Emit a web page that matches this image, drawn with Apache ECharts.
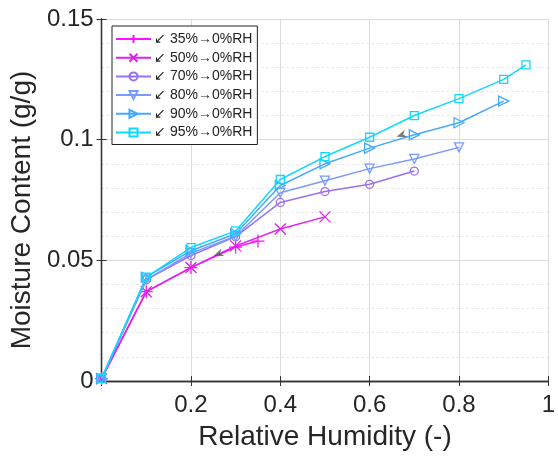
<!DOCTYPE html>
<html>
<head>
<meta charset="utf-8">
<script src="https://cdn.jsdelivr.net/npm/echarts@6/dist/echarts.min.js"></script>
<style>html,body{margin:0;padding:0;background:#fff;}#c{width:558px;height:457px;}</style>
</head>
<body>
<div id="c"></div>
<script>
const seriesNames = ['35%→0%RH', '50%→0%RH', '70%→0%RH', '80%→0%RH', '90%→0%RH', '95%→0%RH'];
const rh35 = [0, 0.1, 0.2, 0.3, 0.35];
const mc35 = [0.001, 0.037, 0.047, 0.0555, 0.058];
const rh50 = [0, 0.1, 0.2, 0.3, 0.4, 0.5];
const mc50 = [0.001, 0.037, 0.047, 0.056, 0.063, 0.068];
const rh70 = [0, 0.1, 0.2, 0.3, 0.4, 0.5, 0.6, 0.7];
const mc70 = [0.001, 0.042, 0.052, 0.0598, 0.074, 0.0785, 0.0815, 0.087];
const rh80 = [0, 0.1, 0.2, 0.3, 0.4, 0.5, 0.6, 0.7, 0.8];
const mc80 = [0.001, 0.042, 0.053, 0.060, 0.078, 0.083, 0.088, 0.092, 0.0968];
const rh90 = [0, 0.1, 0.2, 0.3, 0.4, 0.5, 0.6, 0.7, 0.8, 0.9];
const mc90 = [0.001, 0.043, 0.054, 0.061, 0.081, 0.090, 0.0965, 0.102, 0.107, 0.116];
const rh95 = [0, 0.1, 0.2, 0.3, 0.4, 0.5, 0.6, 0.7, 0.8, 0.9, 0.95];
const mc95 = [0.001, 0.043, 0.0553, 0.0622, 0.0835, 0.093, 0.101, 0.110, 0.117, 0.125, 0.131];
const arrowRH = [0.261, 0.671];
const arrowMC = [0.0526, 0.1019];
const arrowAngle = [22, 18];
const xTicks = [0.2, 0.4, 0.6, 0.8, 1];
const yTicks = [0, 0.05, 0.1, 0.15];

const colors = ['#ff10ff', '#e020ee', '#9a70f0', '#7a9aff', '#44aaff', '#10d8ff'];
const symbols = [
  'path://M5,0L5,10M0,5L10,5',
  'path://M0,0L10,10M10,0L0,10',
  'circle',
  'triangle',
  'triangle',
  'rect'
];
const symRot = [0, 0, 0, 180, -90, 0];
const symSize = [13, 11, 8, 9, 10, 8];
const xs = [rh35, rh50, rh70, rh80, rh90, rh95];
const ys = [mc35, mc50, mc70, mc80, mc90, mc95];

const zip = (a, b) => a.map((v, i) => [v, b[i]]);

const series = seriesNames.map((name, i) => ({
  name: name,
  type: 'line',
  xAxisIndex: 0, yAxisIndex: 0,
  data: zip(xs[i], ys[i]),
  symbol: symbols[i],
  symbolSize: symSize[i],
  symbolRotate: symRot[i],
  showAllSymbol: true,
  lineStyle: { color: colors[i], width: 1.5 },
  itemStyle: { color: 'rgba(255,255,255,0)', borderColor: colors[i], borderWidth: 1.3 },
  emphasis: { disabled: true },
  animation: false,
  z: 3 + i
}));

series.push({
  name: 'arrows',
  type: 'scatter',
  data: arrowRH.map((v, i) => ({ value: [v, arrowMC[i]], symbolRotate: arrowAngle[i] })),
  symbol: 'path://M0,5L10,0L7,5L10,10Z',
  symbolSize: [10, 8],
  itemStyle: { color: '#5a5a5a' },
  z: 20,
  animation: false,
  silent: true
});

const axisColor = '#333';
const font = 'Liberation Sans, Arial, sans-serif';
const chart = echarts.init(document.getElementById('c'));
chart.setOption({
  backgroundColor: '#fff',
  animation: false,
  grid: { left: 100, right: 2, top: 19, bottom: 76, containLabel: false },
  legend: {
    data: seriesNames,
    orient: 'vertical',
    left: 112, top: 26,
    itemWidth: 35, itemHeight: 10, itemGap: 4.7,
    padding: [6, 5, 5, 3],
    backgroundColor: '#fff',
    borderColor: '#222', borderWidth: 1,
    formatter: n => '↙ ' + n,
    textStyle: { fontSize: 14, lineHeight: 14, color: '#222', fontFamily: font, padding: [0, 0, 0, -2] },
    selectedMode: false
  },
  xAxis: [{
    type: 'value', min: 0, max: 1, interval: 0.2,
    name: 'Relative Humidity (-)', nameLocation: 'middle', nameGap: 42,
    nameTextStyle: { fontSize: 28, color: '#262626', fontFamily: font },
    axisLine: { show: true, lineStyle: { color: axisColor, width: 1.3 } },
    axisTick: { show: true, inside: true, length: 5, lineStyle: { color: axisColor } },
    axisLabel: {
      fontSize: 24, color: '#262626', margin: 12, fontFamily: font,
      formatter: v => (xTicks.some(t => Math.abs(t - v) < 1e-9) ? String(+v.toFixed(2)) : '')
    },
    splitLine: { show: true, lineStyle: { color: '#dcdcdc', width: 1 } }
  }, {
    type: 'value', min: 0, max: 1, interval: 0.2, position: 'top',
    axisLine: { show: true, lineStyle: { color: axisColor, width: 1.3 } },
    axisTick: { show: true, inside: true, length: 5, lineStyle: { color: axisColor } },
    axisLabel: { show: false }, splitLine: { show: false }
  }],
  yAxis: [{
    type: 'value', min: 0, max: 0.15, interval: 0.05,
    name: 'Moisture Content (g/g)', nameLocation: 'middle', nameGap: 62,
    nameTextStyle: { fontSize: 28, color: '#262626', fontFamily: font, padding: [0, 20, 0, 0] },
    axisLine: { show: true, lineStyle: { color: axisColor, width: 1.3 } },
    axisTick: { show: true, inside: true, length: 5, lineStyle: { color: axisColor } },
    axisLabel: {
      fontSize: 24, color: '#262626', margin: 8, fontFamily: font,
      formatter: v => (yTicks.some(t => Math.abs(t - v) < 1e-9) ? String(+v.toFixed(2)) : '')
    },
    splitLine: { show: true, lineStyle: { color: '#dcdcdc', width: 1 } },
    minorTick: { show: false, splitNumber: 5 },
    minorSplitLine: { show: true, lineStyle: { color: '#e2e2e2', width: 1, type: [2, 3] } }
  }, {
    type: 'value', min: 0, max: 0.15, interval: 0.05, position: 'right',
    axisLine: { show: true, lineStyle: { color: axisColor, width: 1.3 } },
    axisTick: { show: true, inside: true, length: 5, lineStyle: { color: axisColor } },
    axisLabel: { show: false }, splitLine: { show: false }
  }],
  series: series
});
</script>
</body>
</html>
